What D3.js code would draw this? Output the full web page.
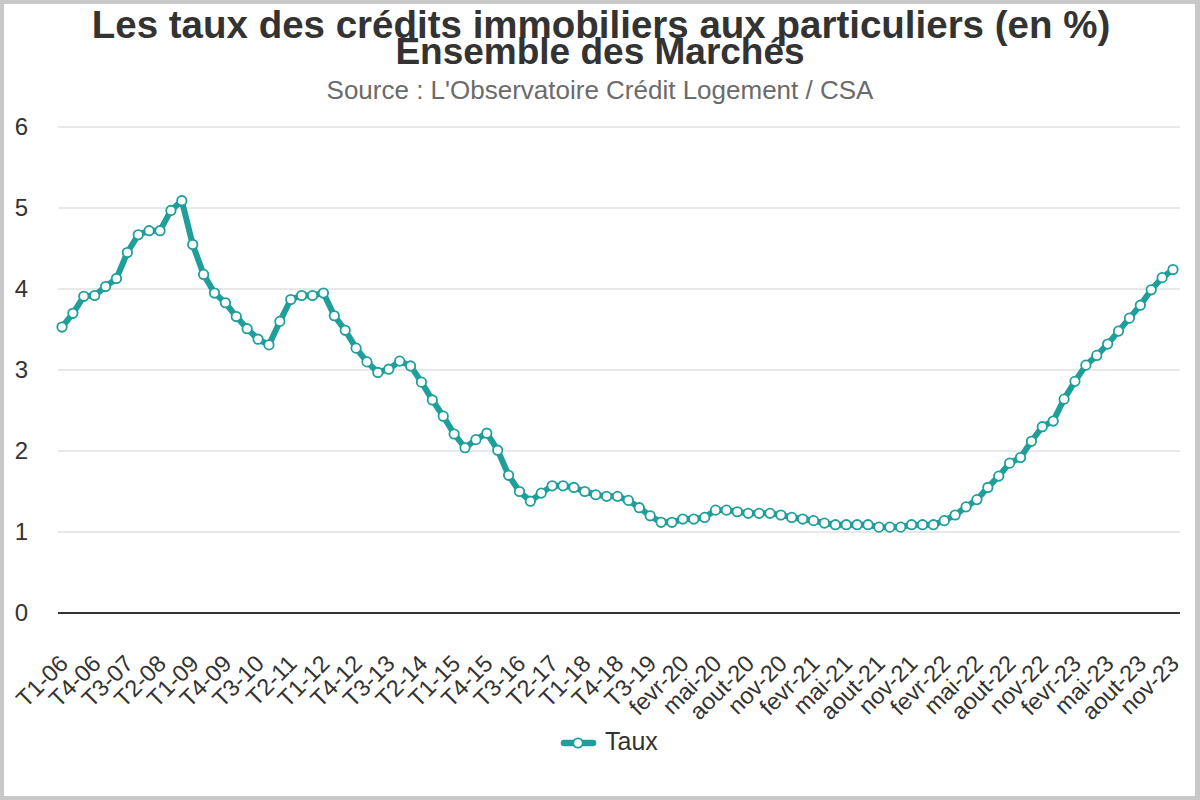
<!DOCTYPE html>
<html>
<head>
<meta charset="utf-8">
<script src="https://cdn.jsdelivr.net/npm/d3@7/dist/d3.min.js"></script>
<style>
  html, body { margin: 0; padding: 0; background: #c8c8c8; }
  svg { display: block; }
</style>
</head>
<body>
<svg id="chart" width="1200" height="800"></svg>
<script>
const titleLine1 = "Les taux des crédits immobiliers aux particuliers (en %)";
const titleLine2 = "Ensemble des Marchés";
const subtitle = "Source : L'Observatoire Crédit Logement / CSA";
const seriesName = "Taux";

const categories = [
  "T1-06","T2-06","T3-06","T4-06","T1-07","T2-07","T3-07","T4-07",
  "T1-08","T2-08","T3-08","T4-08","T1-09","T2-09","T3-09","T4-09",
  "T1-10","T2-10","T3-10","T4-10","T1-11","T2-11","T3-11","T4-11",
  "T1-12","T2-12","T3-12","T4-12","T1-13","T2-13","T3-13","T4-13",
  "T1-14","T2-14","T3-14","T4-14","T1-15","T2-15","T3-15","T4-15",
  "T1-16","T2-16","T3-16","T4-16","T1-17","T2-17","T3-17","T4-17",
  "T1-18","T2-18","T3-18","T4-18","T1-19","T2-19","T3-19","T4-19",
  "janv-20","fevr-20","mars-20","avr-20","mai-20","juin-20","juil-20","aout-20","sept-20","oct-20","nov-20","dec-20",
  "janv-21","fevr-21","mars-21","avr-21","mai-21","juin-21","juil-21","aout-21","sept-21","oct-21","nov-21","dec-21",
  "janv-22","fevr-22","mars-22","avr-22","mai-22","juin-22","juil-22","aout-22","sept-22","oct-22","nov-22","dec-22",
  "janv-23","fevr-23","mars-23","avr-23","mai-23","juin-23","juil-23","aout-23","sept-23","oct-23","nov-23"
];

const taux = [
  3.53,3.70,3.91,3.92,4.03,4.13,4.45,4.67,4.72,4.72,
  4.97,5.09,4.55,4.18,3.95,3.83,3.66,3.51,3.38,3.31,
  3.60,3.87,3.92,3.92,3.95,3.67,3.49,3.27,3.10,2.97,
  3.01,3.11,3.05,2.85,2.63,2.43,2.21,2.04,2.14,2.22,
  2.01,1.70,1.50,1.38,1.48,1.57,1.57,1.55,1.50,1.46,
  1.44,1.44,1.39,1.30,1.20,1.12,1.12,1.16,1.16,1.18,
  1.27,1.27,1.25,1.23,1.23,1.23,1.21,1.18,1.16,1.14,
  1.11,1.09,1.09,1.09,1.09,1.06,1.06,1.06,1.09,1.09,
  1.09,1.14,1.21,1.31,1.40,1.55,1.69,1.85,1.92,2.12,
  2.30,2.37,2.64,2.86,3.06,3.18,3.32,3.48,3.64,3.80,
  3.99,4.14,4.24
];

const yTicks = [0,1,2,3,4,5,6];

const color = "#1e9f9a";
const textColor = "#333333";
const font = "'Liberation Sans', Arial, sans-serif";

const svg = d3.select("#chart");
// frame
svg.append("rect").attr("x",4).attr("y",4).attr("width",1191).attr("height",792).attr("fill","#ffffff");

const x = d3.scalePoint().domain(categories).range([62, 1173]);
const y = d3.scaleLinear().domain([0, 6]).range([613, 127]);

// grid
const grid = svg.append("g");
grid.selectAll("line").data(yTicks.filter(d => d !== 0)).join("line")
  .attr("x1", 58).attr("x2", 1180)
  .attr("y1", d => y(d)).attr("y2", d => y(d))
  .attr("stroke", "#e0e0e0").attr("stroke-width", 1.5);

// y axis labels
const yAxis = d3.axisLeft(y).tickValues(yTicks).tickSize(0).tickPadding(0).tickFormat(d3.format("d"));
const yg = svg.append("g").attr("transform", "translate(28,0)").call(yAxis);
yg.select(".domain").remove();
yg.selectAll("text").attr("font-family", font).attr("font-size", 24).attr("fill", textColor);

// x axis
const xLabelCats = categories.filter((d, i) => i % 3 === 0);
const xAxis = d3.axisBottom(x).tickValues(xLabelCats).tickSize(0).tickPadding(0);
const xg = svg.append("g").attr("transform", `translate(0,${y(0)})`).call(xAxis);
xg.select(".domain").remove();
xg.selectAll("text")
  .attr("font-family", font).attr("font-size", 23.5).attr("fill", textColor)
  .attr("text-anchor", "end")
  .attr("dy", null)
  .attr("y", 0)
  .attr("transform", "translate(7,52) rotate(-45)");

// baseline axis line
svg.append("line").attr("x1", 58).attr("x2", 1180).attr("y1", y(0)).attr("y2", y(0))
  .attr("stroke", "#333").attr("stroke-width", 2);

// line
const data = categories.map((c, i) => ({c, v: taux[i]}));
const line = d3.line().x(d => x(d.c)).y(d => y(d.v));
svg.append("path").datum(data).attr("d", line)
  .attr("fill", "none").attr("stroke", color).attr("stroke-width", 6)
  .attr("stroke-linejoin", "round").attr("stroke-linecap", "round");

svg.append("g").selectAll("circle").data(data).join("circle")
  .attr("cx", d => x(d.c)).attr("cy", d => y(d.v)).attr("r", 4.7)
  .attr("fill", "#fff").attr("stroke", color).attr("stroke-width", 1.8);

// titles
svg.append("text").attr("x", 601).attr("y", 38).attr("text-anchor", "middle")
  .attr("font-family", font).attr("font-weight", "bold").attr("font-size", 38.5).attr("fill", "#333")
  .text(titleLine1);
svg.append("text").attr("x", 600).attr("y", 64).attr("text-anchor", "middle")
  .attr("font-family", font).attr("font-weight", "bold").attr("font-size", 37).attr("fill", "#333")
  .text(titleLine2);
svg.append("text").attr("x", 600).attr("y", 99).attr("text-anchor", "middle")
  .attr("font-family", font).attr("font-size", 26).attr("fill", "#6b6b6b")
  .text(subtitle);

// legend
const lg = svg.append("g");
lg.append("line").attr("x1", 564).attr("x2", 593).attr("y1", 743).attr("y2", 743)
  .attr("stroke", color).attr("stroke-width", 6.5).attr("stroke-linecap", "round");
lg.append("circle").attr("cx", 578).attr("cy", 743).attr("r", 4.7)
  .attr("fill", "#fff").attr("stroke", color).attr("stroke-width", 1.8);
lg.append("text").attr("x", 605).attr("y", 750).attr("font-family", font).attr("font-size", 25)
  .attr("fill", textColor).text(seriesName);
</script>
</body>
</html>
